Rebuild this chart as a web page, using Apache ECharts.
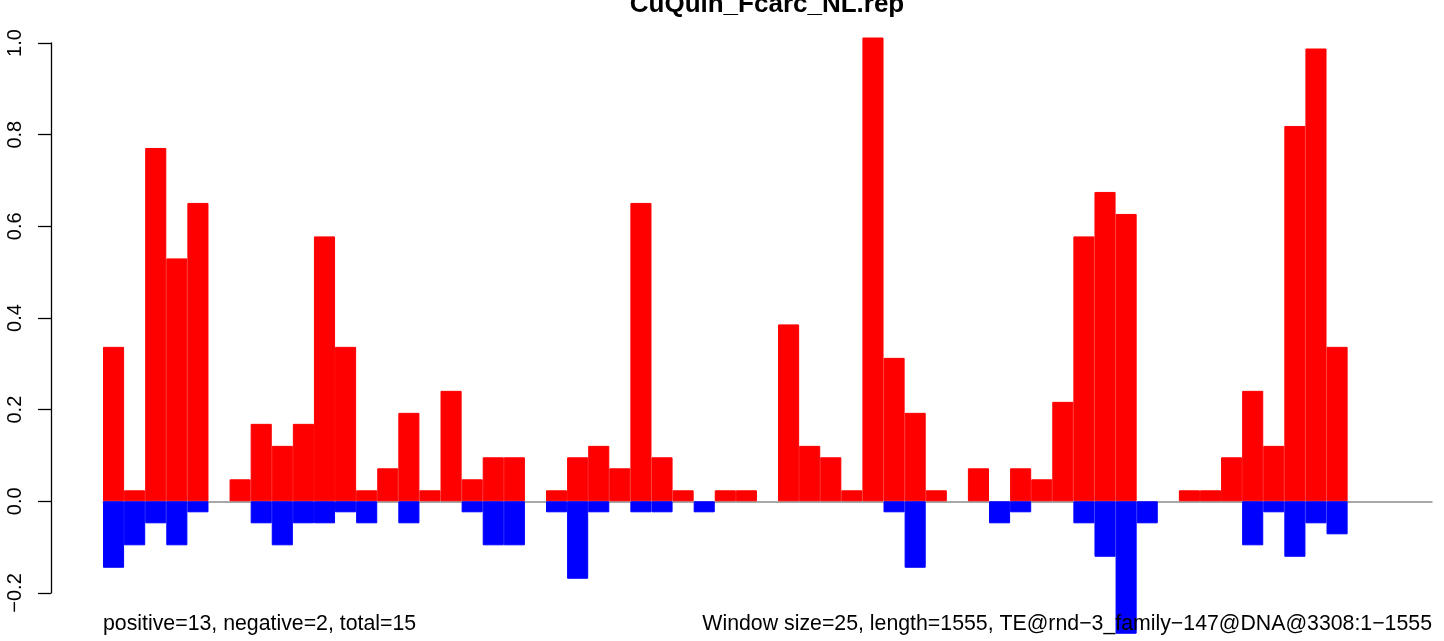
<!DOCTYPE html>
<html>
<head>
<meta charset="utf-8">
<title>CuQuin_Fcarc_NL.rep</title>
<script src="https://cdn.jsdelivr.net/npm/echarts@6/dist/echarts.min.js"></script>
<style>
  html, body { margin: 0; padding: 0; background: #ffffff; }
  #main { width: 1444px; height: 641px; }
</style>
</head>
<body>
<div id="main"></div>
<script>
// ---- data ----
const categories = ['1','2','3','4','5','6','7','8','9','10','11','12','13','14','15','16','17','18','19','20',
  '21','22','23','24','25','26','27','28','29','30','31','32','33','34','35','36','37','38','39','40',
  '41','42','43','44','45','46','47','48','49','50','51','52','53','54','55','56','57','58','59','60',
  '61','62','63'];

const positiveValues = [
  0.337, 0.024, 0.771, 0.530, 0.651, 0, 0.048, 0.169, 0.121, 0.169,
  0.578, 0.337, 0.024, 0.072, 0.193, 0.024, 0.241, 0.048, 0.096, 0.096,
  0, 0.024, 0.096, 0.121, 0.072, 0.651, 0.096, 0.024, 0, 0.024,
  0.024, 0, 0.386, 0.121, 0.096, 0.024, 1.012, 0.313, 0.193, 0.024,
  0, 0.072, 0, 0.072, 0.048, 0.217, 0.578, 0.675, 0.627, 0,
  0, 0.024, 0.024, 0.096, 0.241, 0.121, 0.819, 0.988, 0.337, 0,
  0, 0, 0
];

const negativeValues = [
  -0.145, -0.096, -0.048, -0.096, -0.024, 0, 0, -0.048, -0.096, -0.048,
  -0.048, -0.024, -0.048, 0, -0.048, 0, 0, -0.024, -0.096, -0.096,
  0, -0.024, -0.169, -0.024, 0, -0.024, -0.024, 0, -0.024, 0,
  0, 0, 0, 0, 0, 0, 0, -0.024, -0.145, 0,
  0, 0, -0.048, -0.024, 0, 0, -0.048, -0.121, -0.289, -0.048,
  0, 0, 0, 0, -0.096, -0.024, -0.121, -0.048, -0.072, 0,
  0, 0, 0
];

const yTickMin = -0.2;
const yTickMax = 1.0;
const yTickStep = 0.2;

const titleText = 'CuQuin_Fcarc_NL.rep';
const leftNote = 'positive=13, negative=2, total=15';
const rightNote = 'Window size=25, length=1555, TE@rnd\u22123_family\u2212147@DNA@3308:1\u22121555';

// ---- chart ----
const FONT = '"Liberation Sans", Arial, Helvetica, sans-serif';
const chart = echarts.init(document.getElementById('main'), null, { renderer: 'canvas' });

const toBar = v => (v === 0 ? null : v);

const option = {
  animation: false,
  backgroundColor: '#ffffff',
  grid: [
    { left: 103, right: 12, top: 20.09, height: 618.7 },
    { left: 51, width: 10, top: 43.0, height: 549.96 }
  ],
  xAxis: [
    {
      type: 'category', gridIndex: 0, data: categories,
      axisLine: { show: true, onZero: true, lineStyle: { color: '#8c8c8c', width: 1.5 } },
      axisTick: { show: false }, axisLabel: { show: false }, splitLine: { show: false }
    },
    { type: 'value', gridIndex: 1, show: false, min: 0, max: 1 }
  ],
  yAxis: [
    { type: 'value', gridIndex: 0, min: -0.3, max: 1.05, show: false, splitLine: { show: false } },
    {
      type: 'value', gridIndex: 1, position: 'left',
      min: yTickMin, max: yTickMax, interval: yTickStep,
      axisLine: { show: true, lineStyle: { color: '#000000', width: 1.3 } },
      axisTick: { show: true, inside: false, length: 13, lineStyle: { color: '#000000', width: 1.3 } },
      axisLabel: {
        rotate: 90, margin: 26, fontSize: 20, color: '#000000', fontFamily: FONT,
        formatter: v => (Math.round(v * 10) / 10).toFixed(1).replace('-', '\u2212')
      },
      splitLine: { show: false }
    }
  ],
  series: [
    {
      type: 'bar', xAxisIndex: 0, yAxisIndex: 0,
      data: positiveValues.map(toBar),
      barWidth: '100%', barGap: '-100%',
      itemStyle: { color: '#ff0000', borderColor: '#ff0000', borderWidth: 1 },
      z: 3
    },
    {
      type: 'bar', xAxisIndex: 0, yAxisIndex: 0,
      data: negativeValues.map(toBar),
      barWidth: '100%', barGap: '-100%',
      itemStyle: { color: '#0000ff', borderColor: '#0000ff', borderWidth: 1 },
      z: 3
    }
  ],
  graphic: [
    {
      type: 'text', x: 767, y: 4.4, z: 100,
      style: { text: titleText, fontSize: 26, fontWeight: 'bold', fontFamily: FONT, fill: '#000000', align: 'center', verticalAlign: 'middle' }
    },
    {
      type: 'text', x: 103, y: 624.5, z: 100,
      style: { text: leftNote, fontSize: 21.3, fontFamily: FONT, fill: '#000000', align: 'left', verticalAlign: 'middle' }
    },
    {
      type: 'text', x: 1432, y: 624.5, z: 100,
      style: { text: rightNote, fontSize: 21.3, fontFamily: FONT, fill: '#000000', align: 'right', verticalAlign: 'middle' }
    }
  ]
};

chart.setOption(option);
</script>
</body>
</html>
